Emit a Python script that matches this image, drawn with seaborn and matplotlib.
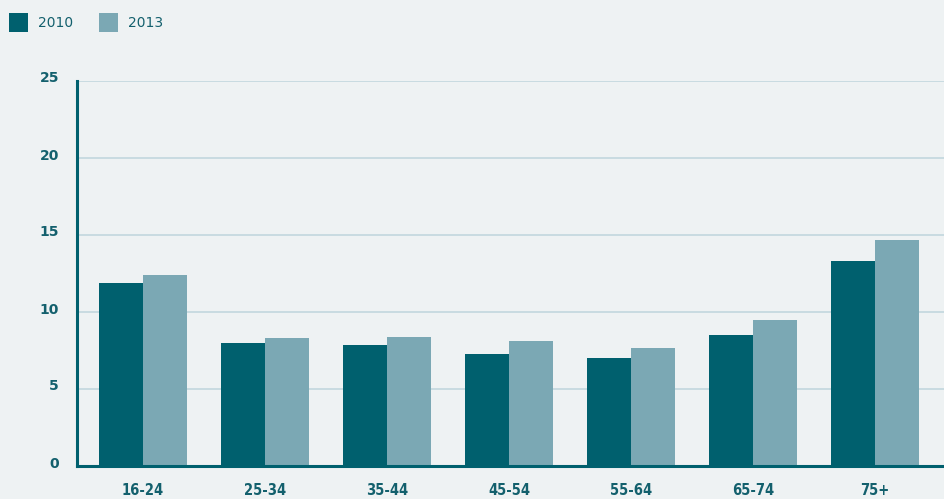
import matplotlib
matplotlib.use("Agg")
import matplotlib.pyplot as plt
import seaborn as sns
import pandas as pd
from matplotlib.patches import Patch
from matplotlib.transforms import ScaledTranslation

categories = ["16-24", "25-34", "35-44", "45-54", "55-64", "65-74", "75+"]
values_2010 = [11.9, 8.0, 7.85, 7.27, 7.0, 8.5, 13.3]
values_2013 = [12.4, 8.3, 8.38, 8.12, 7.66, 9.48, 14.68]
series = ["2010", "2013"]
yticks = [0, 5, 10, 15, 20, 25]

df = pd.DataFrame({
    "group": categories * 2,
    "value": values_2010 + values_2013,
    "year": [series[0]] * len(categories) + [series[1]] * len(categories),
})

bg = "#EEF2F3"
dark = "#00606E"
light = "#7BA8B4"
text_col = "#13606D"
grid_col = "#C6D9E0"

sns.set_theme(style="white")
plt.rcParams["font.family"] = ["DejaVu Sans"]

fig = plt.figure(figsize=(9.45, 4.99), dpi=100, facecolor=bg)
ax = fig.add_axes([77 / 945, 33 / 499, 1 - 77 / 945, (466 - 81) / 499])
ax.set_facecolor(bg)

sns.barplot(data=df, x="group", y="value", hue="year", palette=[dark, light],
            width=0.72, saturation=1, ax=ax, legend=False, zorder=3)
for p in ax.patches:
    p.set_linewidth(0)

ax.set_xlim(-0.54, 6.574)
ax.set_ylim(0, 25)
ax.set_yticks(yticks)
ax.set_yticklabels([str(t) for t in yticks])
ax.yaxis.grid(True, color=grid_col, linewidth=1.3, zorder=0)
ax.set_axisbelow(True)
ax.set_xlabel("")
ax.set_ylabel("")

for s in ["top", "right"]:
    ax.spines[s].set_visible(False)
for s in ["left", "bottom"]:
    ax.spines[s].set_color(dark)
    ax.spines[s].set_linewidth(2.2)
    ax.spines[s].set_zorder(5)

ax.tick_params(axis="both", length=0)
ax.tick_params(axis="y", pad=13, labelsize=10, labelcolor=text_col)
ax.tick_params(axis="x", pad=12, labelsize=10.5, labelcolor=text_col)
shift_up = ScaledTranslation(0, 4 / 100, fig.dpi_scale_trans)
for lbl in ax.get_yticklabels():
    lbl.set_fontweight("bold")
    lbl.set_transform(lbl.get_transform() + shift_up)
for lbl in ax.get_xticklabels():
    lbl.set_fontweight("bold")
    lbl.set_fontstretch("condensed")

handles = [Patch(facecolor=dark, edgecolor="none"), Patch(facecolor=light, edgecolor="none")]
leg = fig.legend(handles, series, loc="upper left", bbox_to_anchor=(-3 / 945, 1 - 1 / 499),
                 ncol=2, frameon=False, fontsize=10, handlelength=1.4, handleheight=1.75,
                 handletextpad=0.7, columnspacing=1.85, borderaxespad=0.3,
                 borderpad=0.55)
for t in leg.get_texts():
    t.set_color(text_col)

fig.savefig("out.png", dpi=100, facecolor=bg)
